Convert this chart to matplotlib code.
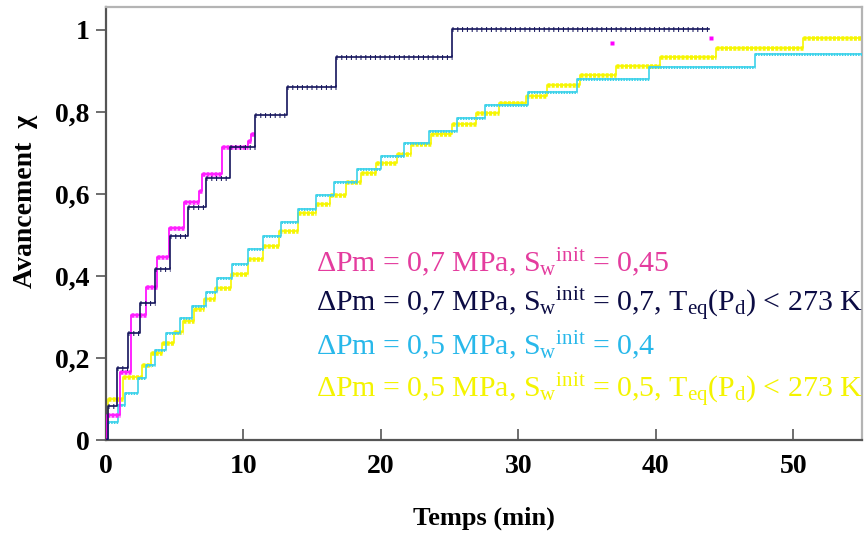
import matplotlib
matplotlib.use("Agg")
import matplotlib.pyplot as plt
import numpy as np

plt.rcParams['font.family'] = ['Liberation Serif', 'DejaVu Serif']
plt.rcParams['mathtext.fontset'] = 'custom'
plt.rcParams['mathtext.rm'] = 'Liberation Serif'
plt.rcParams['mathtext.it'] = 'Liberation Serif:italic'
plt.rcParams['mathtext.bf'] = 'Liberation Serif:bold'
plt.rcParams['lines.scale_dashes'] = False

# ---- data (step start times in min, plateau levels; last entry = end of record) ----
navy_t = [0, 0.15, 0.78, 1.6, 2.45, 3.55, 4.65, 5.95, 7.3, 9.0, 10.85, 13.15, 16.7, 25.2, 43.9]
navy_v = [0, 0.083, 0.175, 0.26, 0.335, 0.417, 0.497, 0.568, 0.64, 0.715, 0.792, 0.862, 0.935, 1.003, 1.003]

magenta_t = [0, 0.1, 1.0, 1.85, 2.9, 3.7, 4.55, 5.7, 6.75, 7.0, 8.45, 10.3, 10.55, 10.75]
magenta_v = [0, 0.06, 0.167, 0.305, 0.372, 0.447, 0.516, 0.581, 0.606, 0.649, 0.714, 0.73, 0.745, 0.745]
magenta_extra_t = [36.8, 44.0]
magenta_extra_v = [0.967, 0.98]

cyan_t = [0, 0.15, 0.85, 1.35, 2.3, 2.9, 3.6, 4.4, 5.4, 6.25, 7.25, 8.05, 9.15, 10.35, 11.45,
          12.75, 13.95, 15.25, 16.6, 18.25, 20.0, 21.7, 23.5, 25.5, 27.6, 30.7, 34.3, 39.5, 47.2, 55]
cyan_v = [0, 0.045, 0.085, 0.115, 0.15, 0.183, 0.22, 0.26, 0.297, 0.328, 0.362, 0.394, 0.43, 0.465, 0.498,
          0.531, 0.563, 0.598, 0.628, 0.66, 0.693, 0.724, 0.754, 0.786, 0.816, 0.849, 0.88, 0.91, 0.941, 0.941]

yellow_t = [0, 0.15, 1.2, 2.6, 3.3, 4.05, 4.95, 5.6, 6.4, 7.1, 7.95, 9.1, 10.3, 11.4, 12.6, 13.95, 15.3,
            16.3, 17.45, 18.55, 19.65, 21.2, 22.2, 23.65, 25.2, 26.95, 28.6, 30.55, 32.1, 34.5, 37.1,
            40.3, 44.4, 50.7, 55]
yellow_v = [0, 0.1, 0.154, 0.182, 0.211, 0.237, 0.264, 0.289, 0.319, 0.345, 0.37, 0.405, 0.442, 0.473,
            0.51, 0.553, 0.576, 0.598, 0.628, 0.65, 0.675, 0.697, 0.722, 0.746, 0.77, 0.797, 0.821, 0.84,
            0.866, 0.889, 0.912, 0.933, 0.955, 0.98, 0.98]

x_ticks = [0, 10, 20, 30, 40, 50]
y_ticks = [0, 0.2, 0.4, 0.6, 0.8, 1.0]
y_ticklabels = ["0", "0,2", "0,4", "0,6", "0,8", "1"]

legend_lines = [
    (r"ΔPm = 0,7 MPa, S$_{\rm w}$${}^{\rm init}$ = 0,45", '#e43c9e'),
    (r"ΔPm = 0,7 MPa, S$_{\rm w}$${}^{\rm init}$ = 0,7, T$_{\rm eq}$(P$_{\rm d}$) < 273 K", '#0c0c44'),
    (r"ΔPm = 0,5 MPa, S$_{\rm w}$${}^{\rm init}$ = 0,4", '#28b8ea'),
    (r"ΔPm = 0,5 MPa, S$_{\rm w}$${}^{\rm init}$ = 0,5, T$_{\rm eq}$(P$_{\rm d}$) < 273 K", '#f4f400'),
]

# ---- figure ----
fig = plt.figure(figsize=(8.64, 5.34), dpi=100)
ax = fig.add_axes([0.1227, 0.176, 0.875, 0.811])

PX = 0.72  # points per pixel


def draw_series(t, v, line_color, band_color, band_lw, dash, lw=1.0, z=2):
    ax.plot(t, v, drawstyle='steps-post', color=line_color, lw=lw, zorder=z)
    ax.hlines(v[:-1], t[:-1], t[1:], colors=band_color, linewidth=band_lw * PX,
              linestyles=[(0, (dash[0] * PX, dash[1] * PX))], zorder=z)


draw_series(yellow_t, yellow_v, '#f6f600', '#f6f600', 4.5, (3.0, 1.2), lw=1.2, z=2)
draw_series(cyan_t, cyan_v, '#3cd2ea', '#3cd2ea', 3.0, (1.5, 1.2), lw=1.2, z=3)
draw_series(magenta_t, magenta_v, '#ff00ff', '#ff20ff', 4.5, (3.0, 1.0), lw=1.2, z=4)
draw_series(navy_t, navy_v, '#14145c', '#14145c', 5.0, (1.0, 3.8), lw=1.2, z=5)
ax.plot(magenta_extra_t, magenta_extra_v, ls='none', marker='s', ms=4 * PX * 1.2,
        color='#ff00ff', mec='none', zorder=4)

ax.set_xlim(0, 55)
ax.set_ylim(0, 1.056)
ax.set_xticks(x_ticks)
ax.set_xticklabels([str(x) for x in x_ticks])
ax.set_yticks(y_ticks)
ax.set_yticklabels(y_ticklabels)

for s in ['left', 'bottom']:
    ax.spines[s].set_color('#555555')
    ax.spines[s].set_linewidth(1.6)
for s in ['top', 'right']:
    ax.spines[s].set_color('#b4b4b4')
    ax.spines[s].set_linewidth(1.6)

ax.tick_params(axis='x', direction='in', length=8, width=1.2, color='#555555', pad=10)
ax.tick_params(axis='y', direction='out', length=7, width=1.2, color='#555555', pad=5)
for lab in ax.get_xticklabels() + ax.get_yticklabels():
    lab.set_fontweight('bold')
    lab.set_fontsize(20)

ax.set_xlabel("Temps (min)", fontsize=19, fontweight='bold', labelpad=20)
ax.set_ylabel("Avancement  χ", fontsize=20, fontweight='bold')
ax.yaxis.set_label_coords(-0.09, 0.55)

baselines = [0.410, 0.312, 0.207, 0.102]
for (txt, col), yb in zip(legend_lines, baselines):
    ax.text(15.3, yb, txt, color=col, fontsize=21.5, va='baseline', ha='left', zorder=6)

fig.savefig("out.png", dpi=100)
